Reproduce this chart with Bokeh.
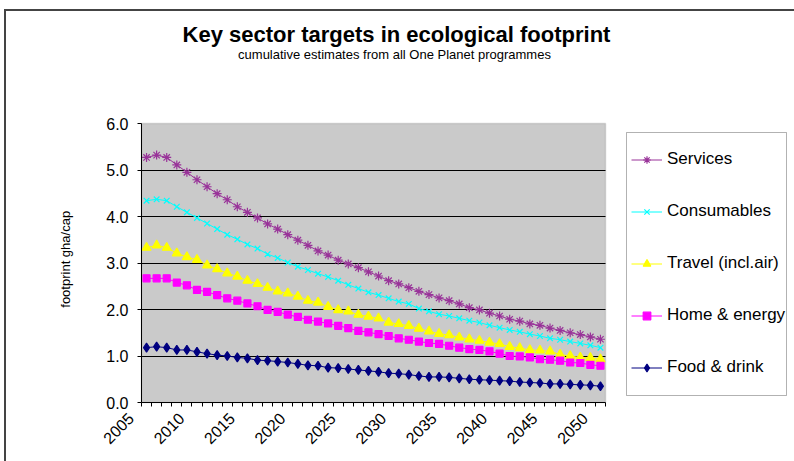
import math

from bokeh.plotting import figure
from bokeh.models import (Range1d, FixedTicker, PrintfTickFormatter, CustomJSTickFormatter,
                          LinearAxis, Label, Legend, LegendItem, BoxAnnotation)
from bokeh.embed import file_html
from bokeh.resources import INLINE

# ---- data: footprint (gha per capita) by sector, 2005-2050 ----
years = list(range(2005, 2051))
label_years = list(range(2005, 2051, 5))

services = [5.27, 5.32, 5.27, 5.11, 4.95, 4.79, 4.64, 4.49, 4.36, 4.21,
            4.09, 3.97, 3.84, 3.73, 3.61, 3.49, 3.38, 3.26, 3.17, 3.06,
            2.98, 2.90, 2.81, 2.72, 2.62, 2.55, 2.47, 2.39, 2.32, 2.25,
            2.19, 2.12, 2.04, 1.99, 1.92, 1.86, 1.79, 1.75, 1.69, 1.66,
            1.60, 1.55, 1.50, 1.46, 1.41, 1.36]
consumables = [4.34, 4.37, 4.34, 4.21, 4.09, 3.97, 3.85, 3.73, 3.61, 3.51,
               3.40, 3.31, 3.19, 3.11, 3.01, 2.92, 2.85, 2.77, 2.70, 2.62,
               2.53, 2.45, 2.37, 2.31, 2.24, 2.17, 2.12, 2.02, 1.96, 1.90,
               1.86, 1.81, 1.76, 1.72, 1.66, 1.61, 1.56, 1.52, 1.47, 1.43,
               1.38, 1.35, 1.31, 1.27, 1.23, 1.18]
travel = [3.33, 3.38, 3.33, 3.21, 3.13, 3.07, 2.95, 2.87, 2.78, 2.71,
          2.62, 2.55, 2.47, 2.39, 2.35, 2.28, 2.19, 2.15, 2.06, 1.99,
          1.96, 1.89, 1.85, 1.81, 1.72, 1.69, 1.65, 1.59, 1.53, 1.48,
          1.45, 1.40, 1.36, 1.33, 1.29, 1.26, 1.20, 1.17, 1.13, 1.12,
          1.10, 1.03, 1.00, 0.97, 0.96, 0.93]
home_energy = [2.67, 2.67, 2.67, 2.58, 2.52, 2.42, 2.38, 2.31, 2.24, 2.19,
               2.13, 2.07, 1.99, 1.95, 1.89, 1.84, 1.78, 1.74, 1.70, 1.65,
               1.60, 1.54, 1.51, 1.47, 1.43, 1.38, 1.35, 1.31, 1.28, 1.26,
               1.22, 1.18, 1.15, 1.13, 1.10, 1.05, 1.00, 0.99, 0.97, 0.93,
               0.92, 0.90, 0.86, 0.85, 0.81, 0.79]
food_drink = [1.18, 1.20, 1.18, 1.13, 1.13, 1.09, 1.05, 1.02, 1.00, 0.97,
              0.95, 0.91, 0.90, 0.88, 0.86, 0.83, 0.80, 0.79, 0.75, 0.74,
              0.72, 0.70, 0.68, 0.66, 0.63, 0.62, 0.60, 0.57, 0.55, 0.55,
              0.54, 0.52, 0.50, 0.49, 0.48, 0.47, 0.46, 0.44, 0.43, 0.42,
              0.40, 0.40, 0.39, 0.38, 0.37, 0.35]

series_names = ["Services", "Consumables", "Travel (incl.air)", "Home & energy", "Food & drink"]
y_ticks = [0, 1, 2, 3, 4, 5, 6]

# ---- layout constants (pixels) ----
W, H = 794, 461
FL, FR, FT, FB = 45, W, 0, 414               # drawing frame
AL, AR, AT, AB = 141, 605, 123, 402          # grey plot area
X0, X1 = 2004.5, 2050.5                      # category edges of the plot area
Y0, Y1 = 0, 6
PPX = (AR - AL) / (X1 - X0)                  # pixels per year
PPY = (AB - AT) / (Y1 - Y0)                  # pixels per unit
FONT = "Liberation Sans"
LABEL_SHIFT = 1.55                           # rotated year labels sit left of their category


def dx(px):
    return X0 + (px - AL) / PPX


def dy(py):
    return Y0 + (AB - py) / PPY


p = figure(width=W, height=H, output_backend="svg", toolbar_location=None,
           x_range=Range1d(dx(FL), dx(FR)), y_range=Range1d(dy(FB), dy(FT)),
           min_border_left=FL, min_border_right=W - FR,
           min_border_top=FT, min_border_bottom=H - FB)
p.background_fill_alpha = 0
p.border_fill_alpha = 0
p.outline_line_color = None
# chart-area frame line along the left and top edges of the page
p.styles = {"background": "linear-gradient(#444444,#444444) 4px 9px / 2px 100% no-repeat, "
                          "linear-gradient(#444444,#444444) 4px 9px / 100% 2px no-repeat, #ffffff"}

# grey plot area
p.add_layout(BoxAnnotation(left=X0, right=X1, bottom=Y0, top=Y1, level="image",
                           fill_color="#CACACA", fill_alpha=1,
                           line_color="#8C8C8C", line_width=1.5))

# x axis rule at y = 0 with small ticks between categories
xa = p.xaxis[0]
xa.fixed_location = Y0
xa.bounds = (X0, X1)
xa.ticker = FixedTicker(ticks=[], minor_ticks=[X0 + i for i in range(len(years) + 1)])
xa.major_tick_out = 0
xa.major_tick_in = 0
xa.minor_tick_out = 4
xa.minor_tick_in = 0
xa.minor_tick_line_color = "black"
xa.axis_line_color = "black"
xa.major_label_standoff = 0

# x axis year labels
xl = LinearAxis(ticker=FixedTicker(ticks=[yr - LABEL_SHIFT for yr in label_years]),
                formatter=CustomJSTickFormatter(
                    code="return String(Math.round(tick + %s));" % LABEL_SHIFT),
                axis_line_color=None, major_tick_line_color=None, minor_tick_line_color=None,
                major_tick_out=0, major_tick_in=0,
                major_label_orientation=math.pi / 4, major_label_standoff=1,
                major_label_text_font=FONT, major_label_text_font_size="16px",
                major_label_text_color="black")
p.add_layout(xl, "below")

ya = p.yaxis[0]
ya.fixed_location = X0
ya.bounds = (Y0, Y1)
ya.ticker = FixedTicker(ticks=y_ticks)
ya.formatter = PrintfTickFormatter(format="%.1f")
ya.major_tick_out = 4
ya.major_tick_in = 0
ya.minor_tick_line_color = None
ya.axis_line_color = "black"
ya.major_tick_line_color = "black"
ya.major_label_standoff = 9
ya.major_label_text_font = FONT
ya.major_label_text_font_size = "16px"
ya.major_label_text_color = "black"

# y axis title
p.add_layout(Label(x=dx(65), y=dy(257), text="footprint  gha/cap", angle=math.pi / 2,
                   text_align="center", text_baseline="middle", text_font=FONT,
                   text_font_size="13px", text_color="black"))

p.xgrid.grid_line_color = None
p.ygrid.ticker = FixedTicker(ticks=y_ticks[1:-1])
p.ygrid.cross_bounds = (X0, X1)
p.ygrid.grid_line_color = "black"
p.ygrid.grid_line_width = 1
p.ygrid.level = "underlay"

# ---- series ----
styles = [
    (services, "#993399", "asterisk", 9),
    (consumables, "#00FFFF", "x", 8),
    (travel, "#FFFF00", "triangle", 9),
    (home_energy, "#FF00FF", "square", 7),
    (food_drink, "#000080", "diamond", 9),
]
items = []
for name, (vals, color, marker, size) in zip(series_names, styles):
    lr = p.line(years, vals, line_color=color, line_width=1)
    sr = p.scatter(years, vals, marker=marker, size=size, line_color=color,
                   fill_color=color, line_width=1.2)
    items.append(LegendItem(label=name, renderers=[lr, sr]))

# ---- legend: white box with items ----
p.add_layout(BoxAnnotation(left=dx(626), right=dx(786), top=dy(132), bottom=dy(395),
                           fill_color="white", fill_alpha=1, line_color="black", line_width=1))
legend = Legend(items=items, location=(631 - FL, FB - 377), orientation="vertical",
                border_line_color=None, background_fill_alpha=0,
                padding=0, margin=0, spacing=32,
                glyph_width=31, glyph_height=19, label_height=19, label_standoff=5,
                label_text_font=FONT, label_text_font_size="17px", label_text_color="black")
p.add_layout(legend)

# ---- titles ----
p.add_layout(Label(x=dx(396), y=dy(34), text="Key sector targets in ecological footprint",
                   text_align="center", text_baseline="middle", text_font=FONT,
                   text_font_size="22px", text_font_style="bold", text_color="black"))
p.add_layout(Label(x=dx(394), y=dy(54), text="cumulative estimates from all One Planet programmes",
                   text_align="center", text_baseline="middle", text_font=FONT,
                   text_font_size="13px", text_color="black"))

open("out.html", "w").write(file_html(p, INLINE))
